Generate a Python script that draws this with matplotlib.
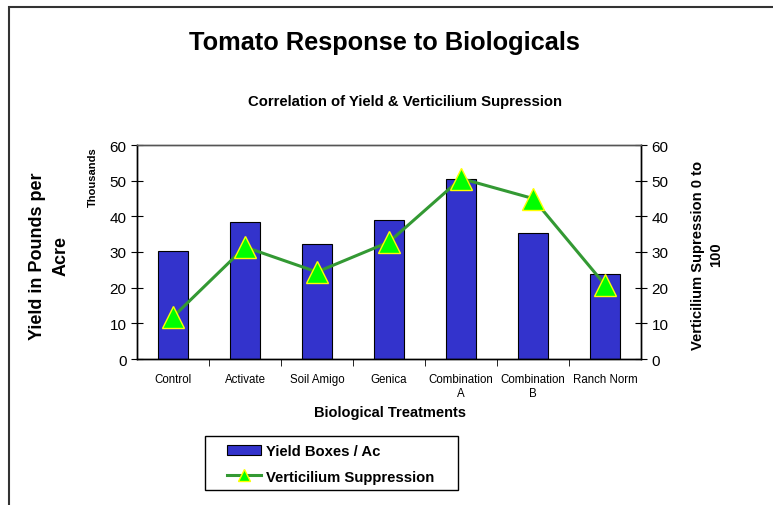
import matplotlib.pyplot as plt
import numpy as np
from matplotlib.lines import Line2D
from matplotlib.patches import Patch, Rectangle

plt.rcParams['font.family'] = ['Liberation Sans', 'DejaVu Sans']

# data
treatments = ['Control', 'Activate', 'Soil Amigo', 'Genica',
              'Combination\nA', 'Combination\nB', 'Ranch Norm']
yield_thousands = [30.2, 38.3, 32.2, 39.1, 50.6, 35.3, 23.8]
suppression = [11.8, 31.4, 24.4, 32.8, 50.6, 45.0, 20.8]

x = np.arange(len(treatments))

fig = plt.figure(figsize=(7.73, 5.06), dpi=100)
ax = fig.add_axes([137/773, 1-360/506, (641-137)/773, (360-146)/506])
ax2 = ax.twinx()

# outer frame of the chart (left and top edges visible)
fig.patches.append(Rectangle((8.5/773, -0.1), 1.2, 1.1 - 8/506, transform=fig.transFigure,
                             fill=False, edgecolor='#333333', linewidth=1.5))

ax.bar(x, yield_thousands, width=0.42, color='#3333CC', edgecolor='black', linewidth=0.8,
       zorder=2)
ax2.plot(x, suppression, color='#339933', linewidth=2.2, marker='^', markersize=16,
         markerfacecolor='#00FF00', markeredgecolor='#FFFF00', markeredgewidth=1, zorder=3)

ax.set_xlim(-0.5, len(treatments) - 0.5)
ax.set_ylim(0, 60)
ax2.set_ylim(0, 60)
ax.set_yticks(range(0, 61, 10))
ax2.set_yticks(range(0, 61, 10))

ax.set_xticks(x)
ax.set_xticklabels(treatments, fontsize=8.3)
ax.tick_params(axis='x', which='major', length=0, pad=10)
ax.set_xticks(np.arange(0.5, len(treatments) - 0.5, 1), minor=True)
ax.tick_params(axis='x', which='minor', length=5, direction='out')
ax.tick_params(axis='y', direction='inout', length=8, labelsize=11)
ax2.tick_params(axis='y', direction='inout', length=8, labelsize=11)

for a in (ax, ax2):
    for s in a.spines.values():
        s.set_linewidth(1)
    a.spines['top'].set_color('#555555')

fig.text(384/773, 1-43/506, 'Tomato Response to Biologicals', ha='center', va='center',
         fontsize=18.3, fontweight='bold')
fig.text(405/773, 1-102/506, 'Correlation of Yield & Verticilium Supression', ha='center',
         va='center', fontsize=10.7, fontweight='bold')
fig.text(49/773, 1-256/506, 'Yield in Pounds per\nAcre', ha='center', va='center',
         rotation=90, fontsize=13, fontweight='bold', linespacing=1.5)
fig.text(93/773, 1-177/506, 'Thousands', ha='center', va='center', rotation=90,
         fontsize=8, fontweight='bold')
fig.text(707/773, 1-255/506, 'Verticilium Supression 0 to\n100', ha='center', va='center',
         rotation=90, fontsize=10.6, fontweight='bold', linespacing=1.4)
fig.text(390/773, 1-413/506, 'Biological Treatments', ha='center', va='center',
         fontsize=10.5, fontweight='bold')

# legend box drawn by hand, entries without frame
fig.patches.append(Rectangle((205/773, 1-491/506), 253/773, 54/506, transform=fig.transFigure,
                             fill=False, edgecolor='black', linewidth=1))
handles = [Patch(facecolor='#3333CC', edgecolor='black', linewidth=0.8),
           Line2D([], [], color='#339933', linewidth=2.2, marker='^', markersize=9,
                  markerfacecolor='#00FF00', markeredgecolor='#FFFF00')]
leg = fig.legend(handles, ['Yield Boxes / Ac', 'Verticilium Suppression'],
                 loc='center left', bbox_to_anchor=(227/773, 1-465/506),
                 prop={'weight': 'bold', 'size': 10.7}, frameon=False,
                 handlelength=2.3, handletextpad=0.3, borderpad=0,
                 labelspacing=0.75, borderaxespad=0)

fig.savefig('out.png', dpi=100)
